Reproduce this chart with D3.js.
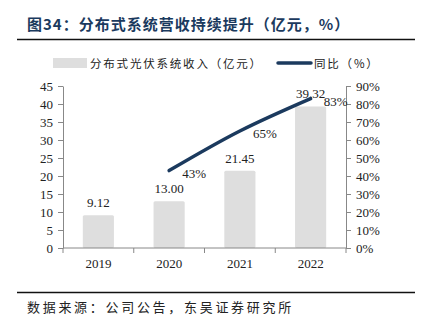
<!DOCTYPE html>
<html>
<head>
<meta charset="utf-8">
<script src="https://cdn.jsdelivr.net/npm/d3@7"></script>
<style>
  html, body { margin: 0; padding: 0; background: #fff; }
  svg { display: block; }
</style>
</head>
<body>
<svg id="chart" width="421" height="333"></svg>
<script>
const categories = ["2019", "2020", "2021", "2022"];
const revenue = [9.12, 13.00, 21.45, 39.32];
const growth = [null, 43, 65, 83];
const growthLabels = ["", "43%", "65%", "83%"];
const leftTicks = [0, 5, 10, 15, 20, 25, 30, 35, 40, 45];
const rightTicks = [0, 10, 20, 30, 40, 50, 60, 70, 80, 90];

const titleText = "图34：分布式系统营收持续提升（亿元，%）";
const legendBar = "分布式光伏系统收入（亿元）";
const legendLine = "同比（%）";
const sourceText = "数据来源：公司公告，东吴证券研究所";

const svg = d3.select("#chart");
const serif = "'Liberation Serif', 'Times New Roman', serif";
const cjk = "'Noto Sans CJK SC', sans-serif";
const navy = "#1b3a5e";

const plot = { left: 63, right: 346, top: 86, bottom: 248 };

const x = d3.scaleBand().domain(categories).range([plot.left, plot.right]).paddingInner(0.56).paddingOuter(0.28);
const xc = d => x(d) + x.bandwidth() / 2;
const yL = d3.scaleLinear().domain([0, 45]).range([plot.bottom, plot.top]);
const yR = d3.scaleLinear().domain([0, 90]).range([plot.bottom, plot.top]);

// Title
svg.append("text").attr("x", 27).attr("y", 30)
  .attr("font-family", cjk).attr("font-weight", "bold").attr("font-size", 15)
  .attr("letter-spacing", 1).attr("fill", navy).text(titleText);
svg.append("line").attr("x1", 17).attr("x2", 415).attr("y1", 39.5).attr("y2", 39.5)
  .attr("stroke", "#111").attr("stroke-width", 1.5);

// Legend
svg.append("rect").attr("x", 53).attr("y", 58).attr("width", 34).attr("height", 10).attr("fill", "#dedede");
svg.append("text").attr("x", 90).attr("y", 67.5).attr("font-family", cjk).attr("font-size", 11.5)
  .attr("letter-spacing", 1.8).attr("fill", "#222").text(legendBar);
svg.append("line").attr("x1", 278).attr("x2", 311).attr("y1", 63).attr("y2", 63)
  .attr("stroke", navy).attr("stroke-width", 3.5).attr("stroke-linecap", "round");
svg.append("text").attr("x", 314).attr("y", 67.5).attr("font-family", cjk).attr("font-size", 11.5)
  .attr("letter-spacing", 1.8).attr("fill", "#222").text(legendLine);

// Bars
svg.append("g").selectAll("rect").data(revenue).join("rect")
  .attr("x", (d, i) => x(categories[i]))
  .attr("y", d => yL(d))
  .attr("width", x.bandwidth())
  .attr("height", d => yL(0) - yL(d))
  .attr("rx", 1.5)
  .attr("fill", "#dedede");

// Bar labels
svg.append("g").selectAll("text").data(revenue).join("text")
  .attr("x", (d, i) => xc(categories[i]))
  .attr("y", d => yL(d) - 8)
  .attr("text-anchor", "middle")
  .attr("font-family", serif).attr("font-size", 13).attr("fill", "#222")
  .text(d => d.toFixed(2));

// Axes
const axisStyle = g => {
  g.selectAll("path.domain").attr("stroke", "#888");
  g.selectAll(".tick line").attr("stroke", "#888");
  g.selectAll(".tick text").attr("font-family", serif).attr("font-size", 13).attr("fill", "#222");
};
svg.append("g").attr("transform", `translate(${plot.left},0)`)
  .call(d3.axisLeft(yL).tickValues(leftTicks).tickSize(5).tickSizeOuter(0).tickPadding(5))
  .call(axisStyle);
svg.append("g").attr("transform", `translate(${plot.right},0)`)
  .call(d3.axisRight(yR).tickValues(rightTicks).tickSize(5).tickSizeOuter(0).tickPadding(5).tickFormat(d => d + "%"))
  .call(axisStyle);

// X axis
const xg = svg.append("g").attr("transform", `translate(0,${plot.bottom})`);
xg.append("line").attr("x1", plot.left).attr("x2", plot.right).attr("stroke", "#888");
const step = (plot.right - plot.left) / categories.length;
xg.selectAll("line.b").data(d3.range(categories.length + 1)).join("line").attr("class", "b")
  .attr("x1", i => plot.left + i * step).attr("x2", i => plot.left + i * step)
  .attr("y1", 0).attr("y2", 5).attr("stroke", "#888");
xg.selectAll("text").data(categories).join("text")
  .attr("x", d => xc(d)).attr("y", 20).attr("text-anchor", "middle")
  .attr("font-family", serif).attr("font-size", 13).attr("fill", "#222").text(d => d);

// Line
const pts = categories.map((c, i) => ({ c, v: growth[i], l: growthLabels[i] })).filter(d => d.v !== null);
svg.append("path").datum(pts)
  .attr("d", d3.line().x(d => xc(d.c)).y(d => yR(d.v)).curve(d3.curveCatmullRom.alpha(0.5)))
  .attr("fill", "none").attr("stroke", navy).attr("stroke-width", 3.5).attr("stroke-linecap", "round");
svg.append("g").selectAll("text").data(pts).join("text")
  .attr("x", d => xc(d.c) + 13).attr("y", d => yR(d.v) + 7)
  .attr("font-family", serif).attr("font-size", 13).attr("fill", "#222").text(d => d.l);

// Source
svg.append("line").attr("x1", 17).attr("x2", 415).attr("y1", 292.5).attr("y2", 292.5)
  .attr("stroke", "#111").attr("stroke-width", 1.5);
svg.append("text").attr("x", 27).attr("y", 312)
  .attr("font-family", cjk).attr("font-size", 13).attr("letter-spacing", 2.7).attr("fill", "#222").text(sourceText);
</script>
</body>
</html>
